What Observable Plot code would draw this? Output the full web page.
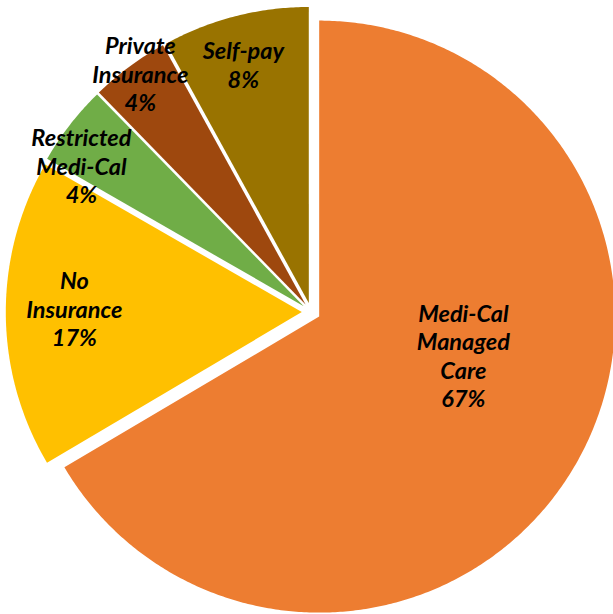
<!DOCTYPE html>
<html><head><meta charset="utf-8">
<script src="https://cdn.jsdelivr.net/npm/d3@7"></script>
<script src="https://cdn.jsdelivr.net/npm/@observablehq/plot@0.6"></script>
<style>body{margin:0;background:#fff}</style>
</head><body><div id="chart"></div>
<script>
// Data
const categories = ["Medi-Cal Managed Care", "No Insurance", "Restricted Medi-Cal", "Private Insurance", "Self-pay"];
const labelLines = ["Medi-Cal\nManaged\nCare", "No\nInsurance", "Restricted\nMedi-Cal", "Private\nInsurance", "Self-pay"];
const shares = [66.5, 16.8, 4.4, 4.3, 8.0];
const shownPct = ["67%", "17%", "4%", "4%", "8%"];
const colors = ["#ED7D31", "#FFC000", "#70AD47", "#9E480E", "#997300"];

// Layout
const W = 613, H = 614, cx = 310.6, cy = 311.5, R = 296, explode = 9.3;
const labelR = [0.535, 0.80, 0.92, 0.99, 0.867];
const labelShift = [-13.8, 1.2, -5.3, 0.9, -0.9];

const total = d3.sum(shares);
const rad = d => d * Math.PI / 180;
let start = 0;
const slicePts = [];
const labelData = [];
categories.forEach((cat, i) => {
  const a0 = start, a1 = start + shares[i] / total * 360;
  start = a1;
  const mid = (a0 + a1) / 2;
  const ox = explode * Math.sin(rad(mid)), oy = -explode * Math.cos(rad(mid));
  slicePts.push({key: cat, x: ox, y: oy});
  const n = Math.max(2, Math.ceil((a1 - a0) / 0.5));
  for (let k = 0; k <= n; k++) {
    const t = a0 + (a1 - a0) * k / n;
    slicePts.push({key: cat, x: ox + R * Math.sin(rad(t)), y: oy - R * Math.cos(rad(t))});
  }
  const la = mid + labelShift[i];
  labelData.push({
    key: cat,
    x: labelR[i] * R * Math.sin(rad(la)),
    y: -labelR[i] * R * Math.cos(rad(la)),
    text: labelLines[i] + "\n" + shownPct[i]
  });
});

const chart = Plot.plot({
  width: W, height: H,
  margin: 0,
  x: {domain: [-cx, W - cx], range: [0, W], axis: null},
  y: {domain: [-cy, H - cy], range: [0, H], axis: null},
  color: {domain: categories, range: colors},
  marks: [
    Plot.line(slicePts, {x: "x", y: "y", z: "key", fill: "key", stroke: "none", curve: "linear"}),
    Plot.text(labelData, {
      x: "x", y: "y", text: "text",
      fontSize: 23.5, fontWeight: "bold", fontStyle: "italic",
      fontFamily: "Lato, 'Noto Sans', sans-serif",
      lineHeight: 1.213, fill: "#000"
    })
  ]
});
document.getElementById("chart").appendChild(chart);
</script>
</body></html>
